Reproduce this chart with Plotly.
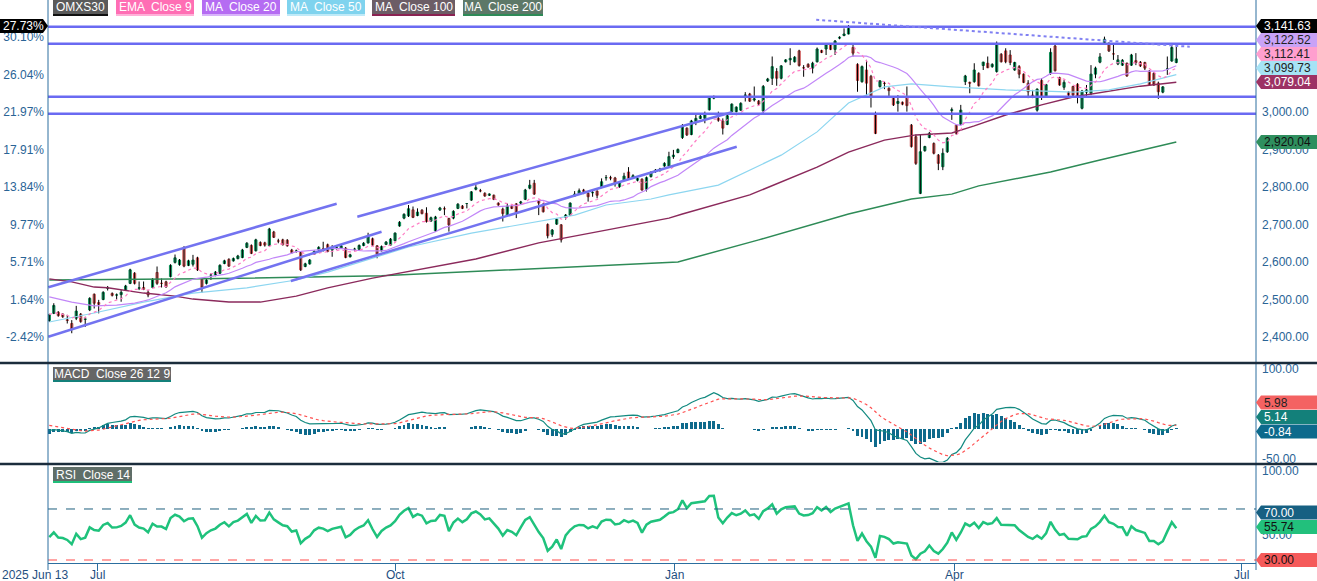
import numpy as np
import plotly.graph_objects as go

# ---------------- data ----------------
opens = [2444, 2463, 2466, 2461, 2446, 2436, 2450, 2461, 2447, 2472,
         2514, 2492, 2500, 2530, 2516, 2512, 2513, 2525, 2543, 2570,
         2530, 2532, 2519, 2532, 2572, 2543, 2547, 2561, 2599, 2593,
         2639, 2591, 2594, 2611, 2554, 2543, 2565, 2565, 2570, 2596,
         2607, 2603, 2609, 2612, 2639, 2644, 2630, 2652, 2651, 2644,
         2680, 2656, 2659, 2658, 2632, 2629, 2626, 2588, 2595, 2621,
         2632, 2636, 2646, 2632, 2639, 2637, 2637, 2614, 2634, 2634,
         2644, 2651, 2662, 2643, 2630, 2647, 2645, 2657, 2696, 2717,
         2723, 2739, 2724, 2738, 2730, 2709, 2683, 2739, 2742, 2716,
         2717, 2743, 2749, 2756, 2765, 2794, 2790, 2783, 2778, 2778,
         2757, 2741, 2725, 2749, 2755, 2757, 2767, 2797, 2810, 2763,
         2754, 2700, 2674, 2701, 2699, 2719, 2725, 2776, 2783, 2792,
         2783, 2785, 2789, 2799, 2825, 2825, 2824, 2801, 2819, 2840,
         2826, 2818, 2821, 2794, 2828, 2841, 2844, 2856, 2856, 2881,
         2892, 2932, 2957, 2940, 2974, 2983, 2983, 3006, 3037, 2983,
         2976, 2967, 3001, 3001, 3005, 3044, 3048, 3032, 3029, 3003,
         3083, 3090, 3108, 3090, 3134, 3139, 3134, 3163, 3118, 3127,
         3117, 3134, 3164, 3168, 3179, 3167, 3197, 3204, 3208, 3172,
         3127, 3081, 3112, 3095, 2994, 3068, 3077, 3063, 3037, 3023,
         3026, 3040, 2965, 2934, 2783, 2897, 2932, 2916, 2885, 2854,
         2894, 3004, 2965, 2967, 3081, 3079, 3081, 3103, 3124, 3130,
         3121, 3108, 3154, 3163, 3152, 3112, 3121, 3101, 3077, 3045,
         3005, 3084, 3040, 3103, 3176, 3092, 3066, 3053, 3068, 3074,
         3010, 3053, 3050, 3101, 3133, 3183, 3183, 3155, 3128, 3125,
         3130, 3125, 3137, 3133, 3132, 3109, 3103, 3077, 3053, 3115,
         3136, 3132]
highs = [2462, 2490, 2469, 2463, 2459, 2445, 2483, 2464, 2454, 2506,
         2516, 2499, 2522, 2536, 2519, 2516, 2525, 2539, 2582, 2573,
         2548, 2548, 2525, 2557, 2588, 2556, 2550, 2594, 2620, 2608,
         2642, 2606, 2619, 2614, 2556, 2555, 2570, 2576, 2594, 2606,
         2610, 2612, 2619, 2635, 2653, 2647, 2662, 2655, 2654, 2691,
         2683, 2662, 2662, 2661, 2635, 2633, 2629, 2598, 2608, 2631,
         2642, 2654, 2649, 2645, 2645, 2646, 2640, 2622, 2638, 2647,
         2653, 2678, 2665, 2645, 2644, 2656, 2664, 2679, 2709, 2730,
         2752, 2748, 2743, 2741, 2746, 2721, 2723, 2747, 2748, 2718,
         2738, 2757, 2752, 2757, 2789, 2805, 2795, 2786, 2783, 2780,
         2759, 2745, 2756, 2752, 2757, 2763, 2795, 2819, 2819, 2765,
         2757, 2703, 2688, 2716, 2701, 2728, 2759, 2789, 2796, 2795,
         2786, 2792, 2791, 2823, 2832, 2830, 2827, 2815, 2838, 2853,
         2834, 2826, 2823, 2828, 2842, 2848, 2851, 2866, 2894, 2899,
         2903, 2968, 2959, 2979, 2994, 2992, 3001, 3041, 3044, 3001,
         2983, 2993, 3023, 3015, 3026, 3053, 3051, 3068, 3032, 3072,
         3091, 3148, 3117, 3125, 3141, 3170, 3149, 3166, 3125, 3130,
         3134, 3172, 3166, 3183, 3181, 3192, 3202, 3223, 3232, 3181,
         3130, 3124, 3139, 3099, 3001, 3085, 3081, 3066, 3039, 3045,
         3028, 3068, 2968, 2940, 2940, 2910, 2947, 2919, 2888, 2903,
         2933, 3012, 2968, 3019, 3099, 3081, 3130, 3106, 3134, 3148,
         3130, 3188, 3157, 3170, 3165, 3134, 3125, 3103, 3085, 3059,
         3063, 3090, 3075, 3170, 3179, 3094, 3085, 3055, 3070, 3077,
         3059, 3072, 3125, 3121, 3157, 3201, 3186, 3179, 3152, 3141,
         3132, 3155, 3157, 3136, 3134, 3112, 3106, 3081, 3069, 3148,
         3183, 3174]
lows = [2440, 2461, 2454, 2451, 2436, 2410, 2445, 2438, 2427, 2469,
        2476, 2463, 2498, 2524, 2508, 2500, 2494, 2523, 2541, 2540,
        2525, 2525, 2506, 2530, 2539, 2532, 2531, 2559, 2596, 2590,
        2586, 2589, 2588, 2576, 2518, 2540, 2552, 2562, 2568, 2594,
        2587, 2601, 2607, 2610, 2637, 2621, 2628, 2642, 2641, 2642,
        2664, 2650, 2644, 2641, 2622, 2625, 2576, 2586, 2593, 2619,
        2630, 2628, 2626, 2614, 2633, 2635, 2610, 2612, 2630, 2632,
        2642, 2649, 2643, 2610, 2628, 2645, 2643, 2655, 2694, 2714,
        2720, 2717, 2722, 2727, 2705, 2707, 2680, 2736, 2725, 2681,
        2714, 2741, 2741, 2743, 2763, 2791, 2786, 2774, 2776, 2765,
        2750, 2708, 2723, 2741, 2717, 2754, 2765, 2794, 2779, 2725,
        2732, 2663, 2667, 2699, 2652, 2713, 2723, 2774, 2781, 2781,
        2761, 2774, 2770, 2797, 2817, 2818, 2801, 2798, 2816, 2820,
        2823, 2815, 2790, 2788, 2825, 2838, 2841, 2854, 2854, 2875,
        2890, 2928, 2936, 2938, 2965, 2981, 2970, 3004, 3034, 2974,
        2940, 2965, 2999, 2999, 3003, 3028, 3027, 3028, 3018, 2992,
        3080, 3072, 3070, 3087, 3132, 3125, 3132, 3121, 3094, 3118,
        3103, 3132, 3157, 3152, 3165, 3152, 3194, 3202, 3207, 3148,
        3054, 3078, 3045, 3012, 2941, 3065, 3061, 3041, 3016, 3001,
        3018, 3001, 2905, 2859, 2781, 2894, 2930, 2887, 2845, 2845,
        2891, 2979, 2939, 2965, 3072, 3050, 3078, 3068, 3112, 3117,
        3118, 3105, 3132, 3130, 3125, 3110, 3090, 3077, 3037, 3037,
        3001, 3032, 3038, 3099, 3108, 3070, 3059, 3041, 3043, 3023,
        3007, 3041, 3045, 3090, 3130, 3179, 3160, 3139, 3125, 3123,
        3094, 3123, 3125, 3120, 3112, 3070, 3070, 3035, 3050, 3099,
        3134, 3130]
closes = [2459.6, 2484, 2457, 2454, 2444, 2421, 2469, 2441, 2448, 2503,
          2490, 2487, 2519, 2530, 2511, 2512, 2519, 2536, 2579, 2543,
          2531, 2527, 2512, 2554, 2543, 2543, 2534, 2591, 2611, 2605,
          2589, 2603, 2605, 2579, 2532, 2552, 2565, 2573, 2591, 2603,
          2589, 2609, 2616, 2632, 2650, 2623, 2659, 2644, 2645, 2688,
          2666, 2656, 2646, 2643, 2625, 2629, 2579, 2595, 2605, 2628,
          2639, 2636, 2628, 2636, 2639, 2643, 2612, 2619, 2634, 2644,
          2650, 2669, 2645, 2621, 2641, 2653, 2661, 2677, 2706, 2727,
          2742, 2719, 2733, 2729, 2708, 2718, 2720, 2744, 2742, 2699,
          2735, 2754, 2743, 2756, 2787, 2798, 2790, 2776, 2781, 2767,
          2752, 2729, 2749, 2743, 2732, 2760, 2792, 2805, 2781, 2757,
          2734, 2670, 2685, 2714, 2659, 2725, 2757, 2781, 2790, 2788,
          2774, 2785, 2778, 2814, 2825, 2824, 2808, 2812, 2829, 2823,
          2830, 2823, 2792, 2825, 2839, 2845, 2848, 2863, 2881, 2885,
          2900, 2960, 2939, 2976, 2983, 2989, 2992, 3038, 3041, 2978,
          2957, 2990, 3021, 3013, 3023, 3045, 3029, 3035, 3021, 3068,
          3088, 3121, 3090, 3123, 3139, 3143, 3146, 3124, 3118, 3120,
          3130, 3168, 3159, 3181, 3167, 3189, 3199, 3208, 3223, 3157,
          3084, 3121, 3077, 3041, 2943, 3083, 3076, 3057, 3019, 3028,
          3021, 3017, 2908, 2863, 2894, 2908, 2943, 2890, 2863, 2890,
          2930, 3006, 2943, 3005, 3096, 3077, 3112, 3070, 3133, 3118,
          3127, 3183, 3134, 3134, 3132, 3132, 3101, 3079, 3054, 3041,
          3061, 3041, 3073, 3159, 3110, 3072, 3079, 3045, 3045, 3041,
          3056, 3059, 3101, 3117, 3147, 3194, 3163, 3155, 3139, 3138,
          3096, 3152, 3132, 3123, 3117, 3072, 3072, 3054, 3067, 3115,
          3172, 3141.63]

# moving-average lines (bar index, value)
ma50_idx = [0, 10, 21, 32, 44, 55, 62, 72, 80, 94, 109, 117, 124, 134, 138, 149,
            163, 171, 178, 186, 192, 201, 213, 221, 228, 236, 243, 251]
ma50_val = [2440, 2464, 2493, 2517, 2531, 2552, 2573, 2611, 2640, 2677, 2707, 2725,
            2752, 2768, 2779, 2805, 2885, 2947, 3024, 3067, 3075, 3067, 3059, 3056,
            3053, 3059, 3075, 3099.73]
ma100_idx = [0, 5, 10, 13, 21, 28, 32, 40, 47, 55, 62, 72, 95, 109, 124, 138, 141,
             156, 171, 178, 186, 193, 201, 206, 213, 221, 228, 236, 243, 251]
ma100_val = [2555, 2547, 2533, 2531, 2517, 2509, 2501, 2493, 2493, 2509, 2531, 2557,
             2608, 2651, 2685, 2717, 2728, 2779, 2853, 2893, 2925, 2939, 2944, 2963,
             2992, 3019, 3040, 3056, 3069, 3079.04]
ma200_idx = [0, 34, 74, 105, 140, 158, 178, 192, 201, 207, 223, 234, 251]
ma200_val = [2552, 2555, 2563, 2581, 2600, 2659, 2728, 2768, 2781, 2803, 2840, 2872,
             2920.04]
ma20_head_idx = [0, 5, 10, 15]
ma20_head_val = [2507, 2493, 2483, 2485]

# drawn horizontal levels and trend lines (bar index, price)
hline_levels = [3227.6, 3182.2, 3040.9, 2995.6]
trend_x0 = [-0.22, -0.22, 68.6, 53.8]
trend_y0 = [2532.5, 2400.8, 2720.8, 2549.3]
trend_x1 = [64.0, 74.0, 152.0, 153.1]
trend_y1 = [2755.5, 2680.8, 2999.2, 2907.5]
dotted_x = [170.8, 254.0]
dotted_y = [3246.0, 3174.0]

# axis ticks
x_tick_pos = [10.7, 77.0, 139.35, 201.7, 265.6]
x_tick_text = ['Jul', 'Oct', 'Jan', 'Apr', 'Jul']
first_date_text = '2025 Jun 13'
pct_ticks = [2400, 2500, 2600, 2700, 2800, 2900, 3000, 3100, 3200]
price_ticks = [2400, 2500, 2600, 2700, 2800, 2900, 3000]   # 3,100 / 3,200 sit under the tags
macd_ticks = [-50, 100]                                   # 0 / 50 sit under the tags
rsi_ticks = [50, 100]                                     # 30 / 70 sit under the tags

# last-value tags (texts shown in the reference)
main_tag_text = ['3,141.63', '3,122.52', '3,112.41', '3,099.73', '3,079.04', '2,920.04']
macd_tag_text = ['5.98', '5.14', '-0.84']
rsi_tag_text = ['70.00', '55.74', '30.00']
pct_tag_text = '27.73%'

legend_names = ['OMXS30', 'EMA  Close 9', 'MA  Close 20', 'MA  Close 50',
                'MA  Close 100', 'MA  Close 200']

# ---------------- geometry / styles ----------------
FONT = 'Arial, Liberation Sans, sans-serif'
L, R, T, B = 48, 1256, 18, 563
PW, PH = R - L, B - T


def px_x(px):
    return (px - L) / PW


def px_y(py):
    return (B - py) / PH


main_range = [2333.3, 3250.7]
macd_range = [-55.0, 108.3]
rsi_range = [27.65, 104.5]
x_range = [-0.29, 268.75]

AX = '#2c6e9f'
TXT = '#2a6496'
XTXT = '#1f4f7f'
BLUE = '#6a6af2'

N = len(closes)
idx = list(range(N))
c = np.array(closes, dtype=float)


def ema(vals, span, seed=None):
    a = 2.0 / (span + 1)
    out = np.empty(len(vals))
    prev = vals[0] if seed is None else seed
    for k, v in enumerate(vals):
        if k == 0 and seed is None:
            prev = v
        else:
            prev = a * v + (1 - a) * prev
        out[k] = prev
    return out


ema9 = ema(c, 9)
ma20_tail = [float(np.mean(c[k - 19:k + 1])) for k in range(19, N)]
ma20_x = ma20_head_idx + list(range(19, N))
ma20_y = ma20_head_val + ma20_tail

e12 = ema(c, 12, seed=2468.0)
e26 = ema(c, 26, seed=2470.0)
macd = e12 - e26
signal = ema(macd, 9, seed=8.0)
hist = macd - signal

ag, al = 12.0, 13.0
rsi = [100 * ag / (ag + al)]
for k in range(1, N):
    d = c[k] - c[k - 1]
    ag = (ag * 13 + max(d, 0)) / 14
    al = (al * 13 + max(-d, 0)) / 14
    rsi.append(100 * ag / (ag + al))

fig = go.Figure()

# wicks
wx, wy = [], []
for i in range(N):
    wx += [i, i, None]
    wy += [lows[i], highs[i], None]
fig.add_trace(go.Scatter(x=wx, y=wy, mode='lines', line=dict(color='#000000', width=1),
                         hoverinfo='skip', showlegend=False))
body_hi = [max(o, cl) for o, cl in zip(opens, closes)]
body_lo = [min(o, cl) for o, cl in zip(opens, closes)]
fig.add_trace(go.Candlestick(x=idx, open=opens, high=body_hi, low=body_lo, close=closes,
                             increasing=dict(fillcolor='#20bf7f', line=dict(color='#0f8a55', width=1)),
                             decreasing=dict(fillcolor='#ea8585', line=dict(color='#c94f4f', width=1)),
                             whiskerwidth=0, showlegend=False, hoverinfo='skip'))

fig.add_trace(go.Scatter(x=ma200_idx, y=ma200_val, mode='lines', line=dict(color='#2e8b57', width=1.5), showlegend=False))
fig.add_trace(go.Scatter(x=ma100_idx, y=ma100_val, mode='lines', line=dict(color='#8b2a5c', width=1.5), showlegend=False))
fig.add_trace(go.Scatter(x=ma50_idx, y=ma50_val, mode='lines', line=dict(color='#8dd6f0', width=1.2), showlegend=False))
fig.add_trace(go.Scatter(x=ma20_x, y=ma20_y, mode='lines', line=dict(color='#c287f8', width=1.2), showlegend=False))
fig.add_trace(go.Scatter(x=idx, y=ema9, mode='lines', line=dict(color='#ff7cc4', width=1.2, dash='dot'), showlegend=False))

# invisible trace to show the left percent axis
fig.add_trace(go.Scatter(x=[0], y=[closes[0]], yaxis='y2', mode='markers', marker=dict(opacity=0),
                         showlegend=False, hoverinfo='skip'))

# MACD
fig.add_trace(go.Bar(x=idx, y=hist, yaxis='y3', marker=dict(color='#0e6a8c', line=dict(width=0)),
                     width=0.65, showlegend=False))
fig.add_trace(go.Scatter(x=idx, y=macd, yaxis='y3', mode='lines', line=dict(color='#138a80', width=1.2), showlegend=False))
fig.add_trace(go.Scatter(x=idx, y=signal, yaxis='y3', mode='lines', line=dict(color='#ff5050', width=1.2, dash='dot'), showlegend=False))

# RSI
fig.add_trace(go.Scatter(x=idx, y=rsi, yaxis='y4', mode='lines', line=dict(color='#1fc27c', width=2.5), showlegend=False))

shapes = []
annotations = []

for lv in hline_levels:
    shapes.append(dict(type='line', xref='paper', yref='y', x0=0, x1=1, y0=lv, y1=lv,
                       line=dict(color=BLUE, width=2.5)))
for x0, y0, x1, y1 in zip(trend_x0, trend_y0, trend_x1, trend_y1):
    shapes.append(dict(type='line', xref='x', yref='y', x0=x0, y0=y0, x1=x1, y1=y1,
                       line=dict(color='#7373f0', width=2.5)))
shapes.append(dict(type='line', xref='x', yref='y', x0=dotted_x[0], y0=dotted_y[0],
                   x1=dotted_x[1], y1=dotted_y[1], line=dict(color='#8080f2', width=2, dash='dot')))

# RSI levels
shapes.append(dict(type='line', xref='paper', yref='y4', x0=0, x1=1, y0=70, y1=70,
                   line=dict(color='#1d5f7d', width=1, dash='dash')))
shapes.append(dict(type='line', xref='paper', yref='y4', x0=0, x1=1, y0=30, y1=30,
                   line=dict(color='#ff4a4a', width=1, dash='dash')))

# vertical axis lines and panel separators
for xx in (0, 1):
    shapes.append(dict(type='line', xref='paper', yref='paper', x0=xx, x1=xx,
                       y0=px_y(570), y1=px_y(0), line=dict(color=AX, width=1)))
for yy in (363, 464):
    shapes.append(dict(type='line', xref='paper', yref='paper', x0=px_x(0), x1=px_x(1317),
                       y0=px_y(yy), y1=px_y(yy), line=dict(color='#1b2d3c', width=2.5)))


def box(x0, x1, y0, y1, fill, text, tcolor, uline=None, size=12):
    shapes.append(dict(type='rect', xref='paper', yref='paper', x0=px_x(x0), x1=px_x(x1),
                       y0=px_y(y1), y1=px_y(y0), fillcolor=fill, line=dict(width=0)))
    if uline:
        shapes.append(dict(type='rect', xref='paper', yref='paper', x0=px_x(x0), x1=px_x(x1),
                           y0=px_y(y1), y1=px_y(y1 - 2), fillcolor=uline, line=dict(width=0)))
    annotations.append(dict(xref='paper', yref='paper', x=px_x((x0 + x1) / 2), y=px_y((y0 + y1) / 2 - 0.5),
                            text=text, showarrow=False, xanchor='center', yanchor='middle',
                            font=dict(family=FONT, size=size, color=tcolor)))


legend_x = [(53, 108), (116, 194), (202, 280), (287, 365), (372, 455), (463, 543)]
legend_bg = ['#5a5a5a', '#ff6eb4', '#b56cf2', '#7fd3ee', '#6c5d66', '#5d7868']
legend_ul = ['#111111', '#ffb0d8', '#d8b4fa', '#bfeaf8', '#8b2252', '#2e8b57']
for (x0, x1), bg, ul, name in zip(legend_x, legend_bg, legend_ul, legend_names):
    box(x0, x1, 0, 16, bg, name, '#ffffff', ul)
box(53, 171, 367, 382, '#666666', 'MACD  Close 26 12 9', '#ffffff', '#14807a')
box(53, 132, 467, 483, '#5f6e68', 'RSI  Close 14', '#ffffff', '#1fbf7a')


def tag(yc, fill, text, tcolor, left=1261, right=1317, tip=1256, h=14):
    ya, yb, ym = px_y(yc - h / 2), px_y(yc + h / 2), px_y(yc)
    xa, xb, xt = px_x(left), px_x(right), px_x(tip)
    shapes.append(dict(type='path', xref='paper', yref='paper',
                       path=f'M {xt},{ym} L {xa},{ya} L {xb},{ya} L {xb},{yb} L {xa},{yb} Z',
                       fillcolor=fill, line=dict(width=0)))
    annotations.append(dict(xref='paper', yref='paper', x=px_x(left + 1), y=ym, text=text,
                            showarrow=False, xanchor='left', yanchor='middle',
                            font=dict(family=FONT, size=12, color=tcolor)))


main_tag_px = [26, 40, 54, 68, 82, 142]
main_tag_fill = ['#000000', '#c9a2f7', '#ff9fcf', '#a6e3f5', '#9c3264', '#2f8f5f']
main_tag_tc = ['#ffffff', '#222222', '#222222', '#222222', '#ffffff', '#111111']
for yc, f, t, tc in zip(main_tag_px, main_tag_fill, main_tag_text, main_tag_tc):
    tag(yc, f, t, tc)
macd_tag_px = [402.5, 417, 431.5]
for yc, f, t, tc in zip(macd_tag_px, ['#f46262', '#13807a', '#0d6a8c'], macd_tag_text,
                        ['#222222', '#ffffff', '#ffffff']):
    tag(yc, f, t, tc)
rsi_tag_px = [512.5, 527, 560]
for yc, f, t, tc in zip(rsi_tag_px, ['#176082', '#22c07c', '#f55a5a'], rsi_tag_text,
                        ['#ffffff', '#111111', '#111111']):
    tag(yc, f, t, tc)

# left percent tag
ya, yb, ym = px_y(19), px_y(33), px_y(26)
shapes.append(dict(type='path', xref='paper', yref='paper',
                   path=f'M {px_x(48)},{ym} L {px_x(43)},{ya} L {px_x(0)},{ya} L {px_x(0)},{yb} L {px_x(43)},{yb} Z',
                   fillcolor='#000000', line=dict(width=0)))
annotations.append(dict(xref='paper', yref='paper', x=px_x(1), y=ym, text=pct_tag_text, showarrow=False,
                        xanchor='left', yanchor='middle', font=dict(family=FONT, size=12, color='#ffffff')))

# x tick labels (placed as text just below the tick marks)
annotations.append(dict(xref='paper', yref='paper', x=px_x(0), y=px_y(575), text=first_date_text,
                        showarrow=False, xanchor='left', yanchor='middle',
                        font=dict(family=FONT, size=12, color=XTXT)))
for xp, xt in zip(x_tick_pos, x_tick_text):
    annotations.append(dict(xref='x', yref='paper', x=xp, y=px_y(575), text=xt,
                            showarrow=False, xanchor='center', yanchor='middle',
                            font=dict(family=FONT, size=12, color=XTXT)))

base = closes[0]
pct_text = [f'{(p / base - 1) * 100:.2f}%' for p in pct_ticks]

common_y = dict(showgrid=False, zeroline=False, showline=False, ticks='', automargin=False,
                tickfont=dict(family=FONT, size=12, color=TXT), fixedrange=True)

fig.update_layout(
    width=1317, height=581, autosize=False,
    margin=dict(l=L, r=1317 - R, t=T, b=581 - B, pad=0),
    paper_bgcolor='#ffffff', plot_bgcolor='#ffffff',
    showlegend=False, hovermode=False, bargap=0,
    font=dict(family=FONT, size=12, color=TXT),
    xaxis=dict(domain=[0, 1], anchor='y4', range=x_range, showgrid=False, zeroline=False,
               showline=True, linecolor=AX, linewidth=1, ticks='outside', ticklen=7, tickcolor=AX,
               tickvals=x_tick_pos, showticklabels=False, automargin=False,
               rangeslider=dict(visible=False)),
    yaxis=dict(domain=[px_y(362), 1], anchor='x', side='right', range=main_range,
               tickvals=price_ticks, ticktext=[f'{p:,.2f}' for p in price_ticks],
               ticklabelstandoff=5, **common_y),
    yaxis2=dict(overlaying='y', anchor='x', side='left', range=main_range,
                tickvals=pct_ticks, ticktext=pct_text, ticklabelstandoff=3, **common_y),
    yaxis3=dict(domain=[px_y(462), px_y(364)], anchor='x', side='right', range=macd_range,
                tickvals=macd_ticks, ticktext=[f'{v:.2f}' for v in macd_ticks],
                ticklabelstandoff=5, **common_y),
    yaxis4=dict(domain=[0, px_y(465)], anchor='x', side='right', range=rsi_range,
                tickvals=rsi_ticks, ticktext=[f'{v:.2f}' for v in rsi_ticks],
                ticklabelstandoff=5, **common_y),
    shapes=shapes, annotations=annotations,
)

fig.write_html('out.html', config={'displayModeBar': False, 'staticPlot': True})
